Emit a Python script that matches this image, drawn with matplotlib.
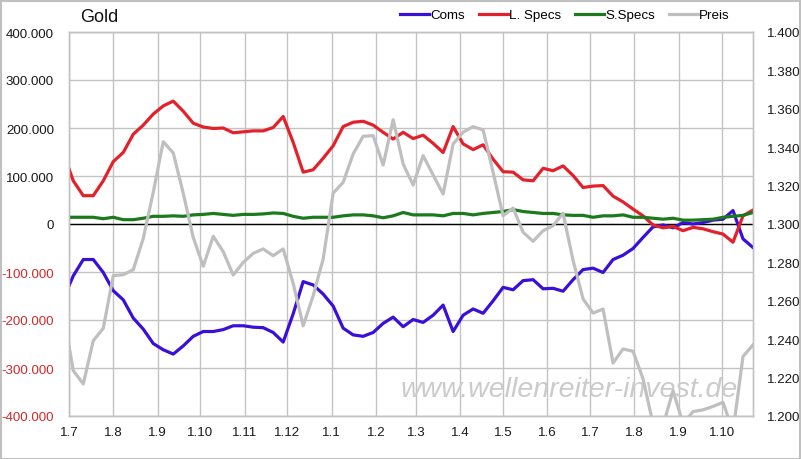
import matplotlib
matplotlib.use("Agg")
import matplotlib.pyplot as plt
import matplotlib.dates as mdates
from matplotlib.ticker import FixedLocator, FuncFormatter
from matplotlib.patches import Rectangle
import pandas as pd

plt.rcParams['font.family'] = ['Liberation Sans', 'DejaVu Sans']

# ---- data ----
dates = pd.date_range('2017-06-27', periods=70, freq='7D')
coms = [-156, -108, -74, -74, -101, -139, -158, -196, -219, -249,
        -262, -271, -254, -234, -224, -224, -220, -212, -212, -215,
        -216, -226, -246, -187, -120, -127, -146, -171, -217, -231,
        -234, -226, -207, -194, -214, -199, -205, -190, -169, -224,
        -190, -177, -186, -160, -132, -137, -118, -116, -135, -134,
        -140, -116, -95, -92, -101, -74, -65, -51, -28, -6,
        -2, -8, 3, 0, 3, 8, 10, 28, -31, -49]
l_specs = [148, 90, 59, 59, 90, 130, 149, 187, 206, 229,
           246, 256, 235, 210, 202, 199, 200, 190, 192, 194,
           194, 201, 224, 170, 108, 113, 137, 163, 203, 212,
           214, 206, 191, 177, 191, 178, 185, 168, 149, 203,
           167, 155, 165, 135, 109, 108, 92, 90, 116, 111,
           121, 101, 76, 79, 80, 58, 46, 31, 17, -2,
           -8, -5, -14, -7, -10, -16, -21, -38, 17, 29]
s_specs = [14, 14, 14, 14, 11, 14, 9, 9, 12, 16,
           16, 17, 16, 19, 20, 22, 20, 18, 20, 20,
           21, 23, 22, 16, 12, 14, 14, 14, 17, 19,
           19, 17, 13, 17, 24, 19, 19, 19, 17, 22,
           22, 19, 22, 24, 26, 30, 26, 24, 22, 22,
           19, 18, 18, 14, 17, 17, 19, 14, 14, 12,
           10, 12, 8, 8, 9, 10, 14, 16, 18, 24]
preis = [1254, 1223.6, 1216.7, 1239.2, 1245.7, 1273.1, 1273.6, 1276.2, 1292.5, 1316.5,
         1342.9, 1337, 1316, 1293, 1278, 1293.6, 1285.6, 1273.4, 1280, 1284.7,
         1287, 1283.5, 1287, 1269, 1247, 1262.7, 1281.8, 1316.1, 1321.7, 1336.5,
         1345.7, 1346, 1330.7, 1354.3, 1331.2, 1320.3, 1335.6, 1325.5, 1315.6, 1341.7,
         1347.8, 1350.7, 1349, 1326.9, 1304.3, 1308.3, 1295.7, 1291, 1296.5, 1299.1,
         1305.6, 1281, 1261, 1253.6, 1255.7, 1227.6, 1234.9, 1233.7, 1219.3, 1196,
         1195, 1213.2, 1196, 1202.3, 1203.2, 1205, 1207.1, 1192, 1231, 1237]
coms = [v * 1000 for v in coms]
l_specs = [v * 1000 for v in l_specs]
s_specs = [v * 1000 for v in s_specs]

left_ticks = [-400000, -300000, -200000, -100000, 0, 100000, 200000, 300000, 400000]
right_ticks = [1200, 1220, 1240, 1260, 1280, 1300, 1320, 1340, 1360, 1380, 1400]
month_ticks = pd.date_range('2017-07-01', '2018-10-01', freq='MS')
x_start, x_end = pd.Timestamp('2017-07-01'), pd.Timestamp('2018-10-23')

# ---- figure ----
W, H = 801, 460
fig = plt.figure(figsize=(W / 100, H / 100), dpi=100)
ax = fig.add_axes([69 / W, 1 - 417 / H, (753 - 69) / W, (417 - 33) / H])
ax2 = ax.twinx()

grid_c = '#c3c3c3'
lw = 2.3
ax.plot(dates, coms, color='#3a10d8', lw=lw, label='Coms', solid_joinstyle='round', zorder=3)
ax.plot(dates, l_specs, color='#e3212b', lw=lw, label='L. Specs', solid_joinstyle='round', zorder=3)
ax.plot(dates, s_specs, color='#1c7a1c', lw=lw, label='S.Specs', solid_joinstyle='round', zorder=3)
ax2.plot(dates, preis, color='#bfbfbf', lw=lw, label='Preis', solid_joinstyle='round')
ax.axhline(0, color='black', lw=1, zorder=2)

ax.set_xlim(x_start, x_end)
ax.set_ylim(-400000, 400000)
ax2.set_ylim(1200, 1400)

ax.yaxis.set_major_locator(FixedLocator(left_ticks))
ax.yaxis.set_major_formatter(FuncFormatter(lambda v, p: f"{int(v):,}".replace(',', '.')))
ax2.yaxis.set_major_locator(FixedLocator(right_ticks))
ax2.yaxis.set_major_formatter(FuncFormatter(lambda v, p: f"{int(round(v)):,}".replace(',', '.')))
ax.xaxis.set_major_locator(FixedLocator(mdates.date2num(month_ticks)))
ax.xaxis.set_major_formatter(FuncFormatter(lambda v, p: f"1.{mdates.num2date(v).month}"))

ax.grid(True, color=grid_c, lw=1, zorder=0)
ax.set_axisbelow(True)
for a in (ax, ax2):
    for s in a.spines.values():
        s.set_color(grid_c)
        s.set_linewidth(1)
    a.tick_params(length=0, labelsize=9.6, colors='#1a1a1a')
ax.tick_params(axis='y', pad=10.8)
ax.tick_params(axis='x', pad=7.5)
ax2.tick_params(axis='y', pad=10)
for t, v in zip(ax.get_yticklabels(), left_ticks):
    if v < 0:
        t.set_color('#d02a2a')

# watermark
ax.text(569 / W, 1 - 397 / H, 'www.wellenreiter-invest.de', transform=fig.transFigure,
        fontsize=20.5, style='italic', color='#cbcbcb', ha='center', va='baseline', zorder=1)

# title
fig.text(80 / W, 1 - 17.5 / H, 'Gold', fontsize=13, ha='left', va='center', color='#111111')

# legend
h1, l1 = ax.get_legend_handles_labels()
h2, l2 = ax2.get_legend_handles_labels()
fig.legend(h1 + h2, l1 + l2, loc='center left', bbox_to_anchor=(400 / W, 1 - 16 / H),
           ncol=4, frameon=False, fontsize=9.6, handlelength=2.2, handletextpad=0.1,
           columnspacing=1.0, borderpad=0, borderaxespad=0)

# outer border
fig.patches.append(Rectangle((0.5 / W, 0.5 / H), 1 - 2 / W, 1 - 2 / H, transform=fig.transFigure,
                             fill=False, edgecolor='#c0c0c0', lw=1.5))

fig.savefig('out.png', dpi=100)
